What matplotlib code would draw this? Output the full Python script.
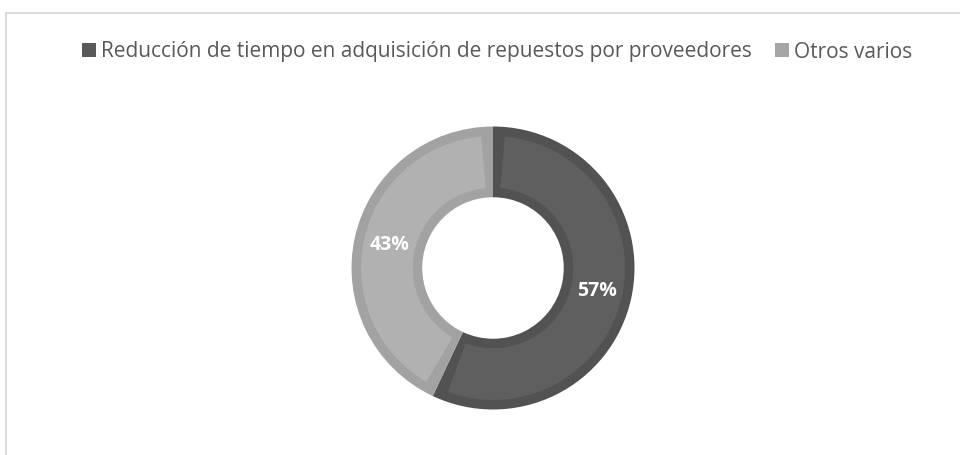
import matplotlib
matplotlib.use("Agg")
import numpy as np
import matplotlib.pyplot as plt
from matplotlib.patches import Rectangle
from matplotlib.lines import Line2D

# chart data
labels = ["Reducción de tiempo en adquisición de repuestos por proveedores", "Otros varios"]
shares = [57, 43]
fill_colors = ["#5f5f5f", "#b1b1b1"]
edge_colors = ["#525252", "#a2a2a2"]

plt.rcParams['font.family'] = ['Open Sans', 'DejaVu Sans']

W, H = 960, 455
fig = plt.figure(figsize=(W / 100, H / 100), dpi=100)
fig.patch.set_facecolor("white")

# chart frame (only top and left edges visible in the crop)
fig.add_artist(Line2D([5.5 / W, 1.0], [1 - 12.5 / H, 1 - 12.5 / H], color="#d4d4d4", lw=1.2))
fig.add_artist(Line2D([5.5 / W, 5.5 / W], [1 - 12.5 / H, 0.0], color="#d4d4d4", lw=1.2))

# donut
cx, cy, r = 493, 268, 141.5
pad = 1.1
ax = fig.add_axes([(cx - r * pad) / W, 1 - (cy + r * pad) / H, 2 * r * pad / W, 2 * r * pad / H])

# outer layer in border colour
ax.pie(shares, colors=edge_colors, startangle=90, counterclock=False,
       radius=1.0, wedgeprops=dict(width=0.5, linewidth=0))

# inner layer in fill colour, inset by the border width
d = 9.5 / r
inner, _, autotexts = ax.pie(
    shares, colors=fill_colors, startangle=90, counterclock=False,
    radius=1.0 - d, wedgeprops=dict(width=0.5 - 2 * d, linewidth=0),
    autopct="%1.0f%%", pctdistance=0.75 / (1.0 - d),
    textprops=dict(color="white", fontsize=14, fontweight="bold"))
dtheta = np.degrees(d / 0.75)
for w in inner:
    w.set_theta1(w.theta1 + dtheta)
    w.set_theta2(w.theta2 - dtheta)

ax.set_xlim(-pad, pad)
ax.set_ylim(-pad, pad)
ax.set_aspect("equal")
ax.axis("off")

# legend
handles = [Rectangle((0, 0), 1, 1, facecolor=c, edgecolor="none") for c in ["#595959", "#a5a5a5"]]
fig.legend(handles, labels, loc="center", bbox_to_anchor=(497 / W, 1 - 52 / H), ncol=2,
           frameon=False, fontsize=15, labelcolor="#595959", handlelength=0.67,
           handleheight=0.67, handletextpad=0.25, columnspacing=1.1,
           borderpad=0, borderaxespad=0)

fig.savefig("out.png", dpi=100, facecolor="white")
